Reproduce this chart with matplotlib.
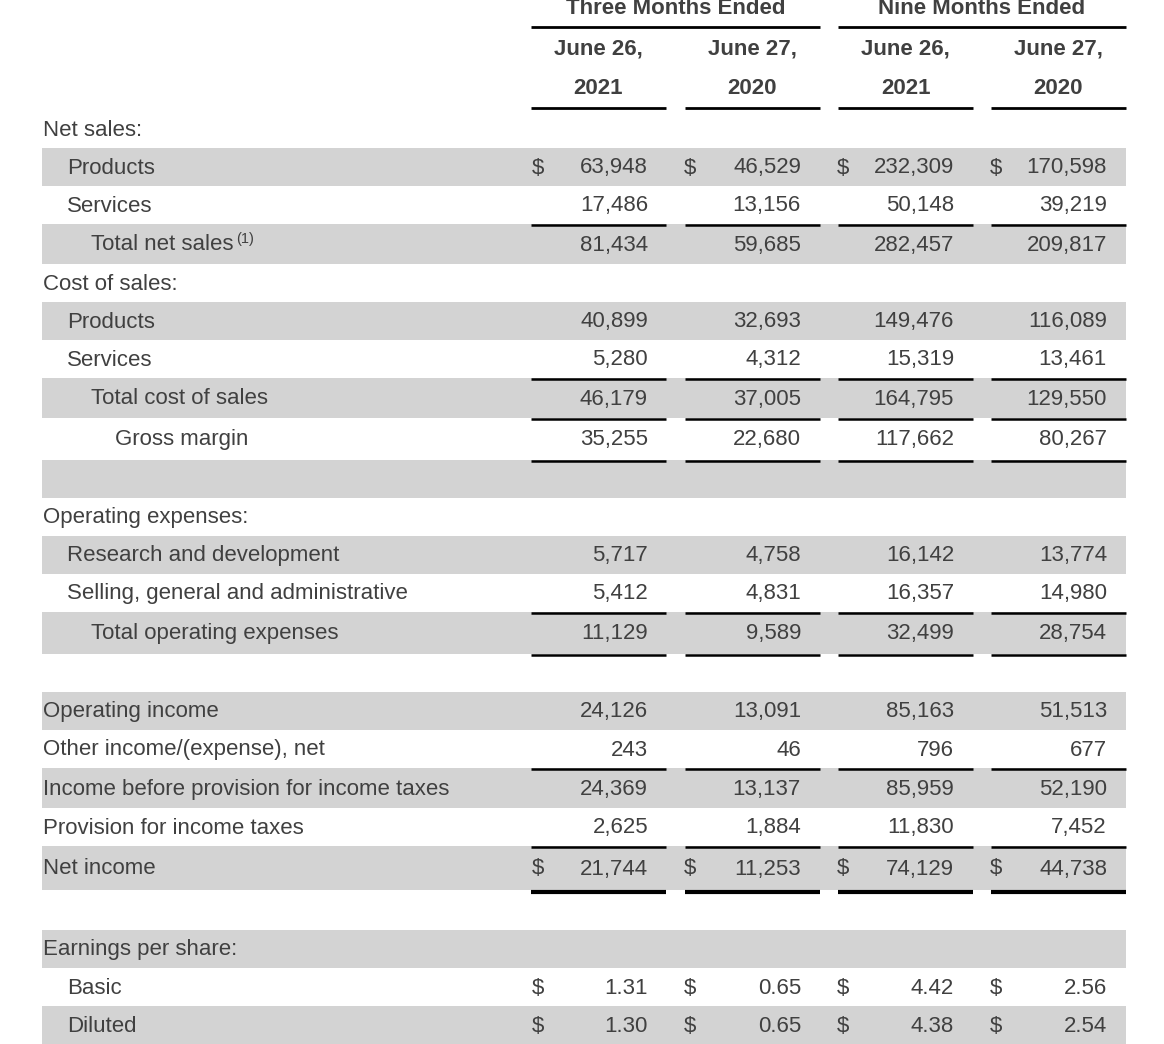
import matplotlib.pyplot as plt

# righe del conto economico
labels = ["Net sales:", "Products", "Services", "Total net sales", "Cost of sales:",
          "Products", "Services", "Total cost of sales", "Gross margin", "",
          "Operating expenses:", "Research and development",
          "Selling, general and administrative", "Total operating expenses", "",
          "Operating income", "Other income/(expense), net",
          "Income before provision for income taxes", "Provision for income taxes",
          "Net income", "", "Earnings per share:", "Basic", "Diluted"]
indent = [0, 1, 1, 2, 0, 1, 1, 2, 3, 0, 0, 1, 1, 2, 0, 0, 0, 0, 0, 0, 0, 0, 1, 1]

three_2021 = [None, 63948, 17486, 81434, None, 40899, 5280, 46179, 35255, None,
              None, 5717, 5412, 11129, None, 24126, 243, 24369, 2625, 21744,
              None, None, 1.31, 1.30]
three_2020 = [None, 46529, 13156, 59685, None, 32693, 4312, 37005, 22680, None,
              None, 4758, 4831, 9589, None, 13091, 46, 13137, 1884, 11253,
              None, None, 0.65, 0.65]
nine_2021 = [None, 232309, 50148, 282457, None, 149476, 15319, 164795, 117662, None,
             None, 16142, 16357, 32499, None, 85163, 796, 85959, 11830, 74129,
             None, None, 4.42, 4.38]
nine_2020 = [None, 170598, 39219, 209817, None, 116089, 13461, 129550, 80267, None,
             None, 13774, 14980, 28754, None, 51513, 677, 52190, 7452, 44738,
             None, None, 2.56, 2.54]
colonne = [three_2021, three_2020, nine_2021, nine_2020]

col_headers = [("June 26,", "2021"), ("June 27,", "2020"), ("June 26,", "2021"), ("June 27,", "2020")]
group_headers = ["Three Months Ended", "Nine Months Ended"]

shaded = [0, 1, 0, 1, 0, 1, 0, 1, 0, 1, 0, 1, 0, 1, 0, 1, 0, 1, 0, 1, 0, 1, 0, 1]
dollar = [0, 1, 0, 0, 0, 0, 0, 0, 0, 0, 0, 0, 0, 0, 0, 0, 0, 0, 0, 1, 0, 0, 1, 1]
line_above = [0, 0, 0, 1, 0, 0, 0, 1, 1, 1, 0, 0, 0, 1, 1, 0, 0, 1, 0, 1, 0, 0, 0, 0]
thick_above = [0] * 20 + [1, 0, 0, 0]
heights = [38, 38, 38, 40, 38, 38, 38, 40, 42, 38, 38, 38, 38, 42, 38, 38, 38, 40, 38, 44, 40, 38, 38, 38]

TXT = "#404040"
SHADE = "#d3d3d3"
FONT = "Liberation Sans"
FS = 16

fig = plt.figure(figsize=(11.64, 10.44), dpi=100)
ax = fig.add_axes([0, 0, 1, 1])
ax.set_xlim(0, 1164)
ax.set_ylim(1044, 0)
ax.axis("off")

# posizioni colonne
col_left = [531, 685, 838, 991]
col_right = [666, 820, 973, 1126]
dollar_x = [538, 690, 843, 996]
value_x = [648, 801, 954, 1107]

# intestazione
for g in range(2):
    xc = (col_left[2 * g] + col_right[2 * g + 1]) / 2
    ax.text(xc, 8, group_headers[g], ha="center", va="center", fontsize=FS,
            fontweight="bold", color=TXT, family=FONT)
    ax.hlines(27, col_left[2 * g], col_right[2 * g + 1], color="black", lw=2)
for c in range(4):
    xc = (col_left[c] + col_right[c]) / 2
    ax.text(xc, 49, col_headers[c][0], ha="center", va="center", fontsize=FS,
            fontweight="bold", color=TXT, family=FONT)
    ax.text(xc, 89, col_headers[c][1], ha="center", va="center", fontsize=FS,
            fontweight="bold", color=TXT, family=FONT)
    ax.hlines(108, col_left[c], col_right[c], color="black", lw=2)

top = 110
for i in range(len(labels)):
    h = heights[i]
    yc = top + h / 2 + 1
    if shaded[i]:
        ax.add_patch(plt.Rectangle((42, top), 1126 - 42, h, color=SHADE, lw=0, zorder=0))
    if line_above[i]:
        for c in range(4):
            ax.hlines(top + 1, col_left[c], col_right[c], color="black", lw=1.8, zorder=3)
    if thick_above[i]:
        for c in range(4):
            ax.hlines(top + 2, col_left[c], col_right[c], color="black", lw=3, zorder=3)
    if labels[i]:
        ax.text(43 + 24 * indent[i], yc, labels[i], ha="left", va="center",
                fontsize=FS, color=TXT, family=FONT)
        if labels[i] == "Total net sales":
            ax.text(236, yc - 6, "(1)", ha="left", va="center", fontsize=10.5,
                    color=TXT, family=FONT)
    for c in range(4):
        v = colonne[c][i]
        if v is None:
            continue
        s = "{:.2f}".format(v) if isinstance(v, float) else "{:,}".format(v)
        ax.text(value_x[c], yc, s, ha="right", va="center", fontsize=FS,
                color=TXT, family=FONT)
        if dollar[i]:
            ax.text(dollar_x[c], yc, "$", ha="center", va="center", fontsize=FS,
                    color=TXT, family=FONT)
    top += h

fig.savefig("out.png", dpi=100)
